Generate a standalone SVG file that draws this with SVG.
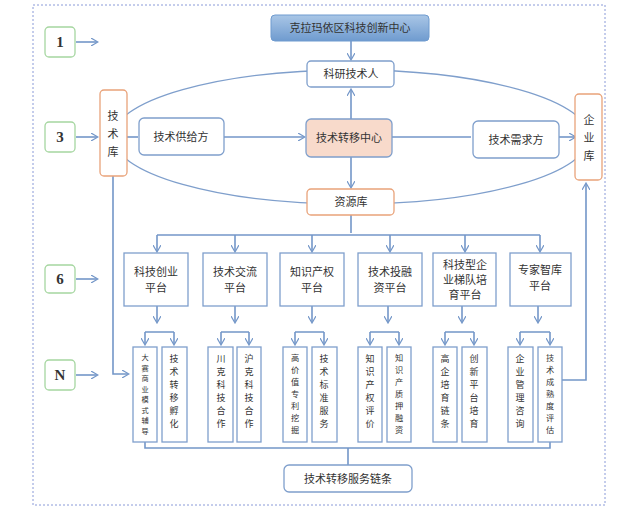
<svg xmlns="http://www.w3.org/2000/svg" width="643" height="506" viewBox="0 0 643 506">
<style>
text{font-family:"Noto Sans CJK SC","Liberation Sans",sans-serif;fill:#333;text-anchor:middle}
.b{fill:#fff;stroke:#7f9fcc;stroke-width:1.3}
.o{fill:#fff;stroke:#e9a37a;stroke-width:1.3}
.n{fill:#fff;stroke:#a5d6a0;stroke-width:1.3}
.c{fill:none;stroke:#7396c8;stroke-width:1.6}
.t{font-size:11px}
.s{font-size:9px}
.s7{font-size:8.2px}
.s8{font-size:7.2px}
.num{font-family:"Liberation Serif",serif;font-weight:bold;font-size:15px}
</style>
<defs>
<marker id="a" markerWidth="8" markerHeight="8" refX="6" refY="4" orient="auto" markerUnits="userSpaceOnUse"><path d="M0,0 L7,4 L0,8" fill="none" stroke="#7396c8" stroke-width="1.2"/></marker>
<linearGradient id="g" x1="0" y1="0" x2="0" y2="1"><stop offset="0" stop-color="#a9c6e6"/><stop offset="1" stop-color="#6f9bcf"/></linearGradient>
</defs>
<rect x="33" y="5" width="572" height="500" fill="none" stroke="#8a9ad8" stroke-dasharray="2,2"/>
<ellipse cx="351" cy="137" rx="238" ry="67" fill="none" stroke="#7f9fcc" stroke-width="1.3"/>
<g id="connectors">
<path class="c" d="M351 41V59" marker-end="url(#a)"/>
<path class="c" d="M351 119V90" marker-end="url(#a)"/>
<path class="c" d="M127 137H138"/>
<path class="c" d="M224 137H304" marker-end="url(#a)"/>
<path class="c" d="M392 137H471"/>
<path class="c" d="M559 137H575" marker-end="url(#a)"/>
<path class="c" d="M351 157V187" marker-end="url(#a)"/>
<path class="c" d="M351 215V233"/>
<path class="c" d="M157 235H540"/>
<path class="c" d="M157 235V251" marker-end="url(#a)"/>
<path class="c" d="M235 235V251" marker-end="url(#a)"/>
<path class="c" d="M312 235V251" marker-end="url(#a)"/>
<path class="c" d="M390 235V251" marker-end="url(#a)"/>
<path class="c" d="M465 235V251" marker-end="url(#a)"/>
<path class="c" d="M540 235V251" marker-end="url(#a)"/>
<path class="c" d="M157 306V322" marker-end="url(#a)"/>
<path class="c" d="M235 306V322" marker-end="url(#a)"/>
<path class="c" d="M312 306V322" marker-end="url(#a)"/>
<path class="c" d="M388 306V322" marker-end="url(#a)"/>
<path class="c" d="M462 306V322" marker-end="url(#a)"/>
<path class="c" d="M538 306V322" marker-end="url(#a)"/>
<path class="c" d="M145 332H174M221 332H249M295 332H324M370 332H399M445 332H474M520 332H550"/>
<path class="c" d="M145 332V344" marker-end="url(#a)"/><path class="c" d="M174 332V344" marker-end="url(#a)"/>
<path class="c" d="M221 332V344" marker-end="url(#a)"/><path class="c" d="M249 332V344" marker-end="url(#a)"/>
<path class="c" d="M295 332V344" marker-end="url(#a)"/><path class="c" d="M324 332V344" marker-end="url(#a)"/>
<path class="c" d="M370 332V344" marker-end="url(#a)"/><path class="c" d="M399 332V344" marker-end="url(#a)"/>
<path class="c" d="M445 332V344" marker-end="url(#a)"/><path class="c" d="M474 332V344" marker-end="url(#a)"/>
<path class="c" d="M520 332V344" marker-end="url(#a)"/><path class="c" d="M550 332V344" marker-end="url(#a)"/>
<path class="c" d="M113 176V374H128" marker-end="url(#a)"/>
<path class="c" d="M562 380H586V184" marker-end="url(#a)"/>
<path class="c" d="M145 442V448H550V442M348 448V465"/>
<path class="c" d="M76 42H97" marker-end="url(#a)"/>
<path class="c" d="M76 137H97" marker-end="url(#a)"/>
<path class="c" d="M76 279H97" marker-end="url(#a)"/>
<path class="c" d="M76 375H97" marker-end="url(#a)"/>
</g>
<g id="n1"><rect class="n" x="45" y="27" width="30" height="30" rx="4"/><text class="num" x="60" y="47">1</text></g>
<g id="n3"><rect class="n" x="45" y="122" width="30" height="30" rx="4"/><text class="num" x="60" y="142">3</text></g>
<g id="n6"><rect class="n" x="45" y="265" width="30" height="28" rx="4"/><text class="num" x="60" y="284">6</text></g>
<g id="nN"><rect class="n" x="45" y="360" width="30" height="30" rx="4"/><text class="num" x="60" y="380">N</text></g>
<g id="top"><rect x="271" y="15" width="158" height="26" rx="4" fill="url(#g)" stroke="#6f9bcf"/><text class="t" x="350" y="32">克拉玛依区科技创新中心</text></g>
<g id="kyjsr"><rect class="b" x="307" y="61" width="87" height="26" rx="4"/><text class="t" x="351" y="78">科研技术人</text></g>
<g id="jsk"><rect class="o" x="100" y="90" width="27" height="86" rx="4"/><text class="t" x="113" y="120">技</text><text class="t" x="113" y="138">术</text><text class="t" x="113" y="156">库</text></g>
<g id="qyk"><rect class="o" x="575" y="94" width="27" height="86" rx="4"/><text class="t" x="589" y="124">企</text><text class="t" x="589" y="142">业</text><text class="t" x="589" y="160">库</text></g>
<g id="gjf"><rect class="b" x="139" y="118" width="85" height="37" rx="5"/><text class="t" x="181" y="141">技术供给方</text></g>
<g id="center"><rect x="306" y="119" width="86" height="38" rx="5" fill="#f8dacb" stroke="#7f9fcc" stroke-width="1.3"/><text class="t" x="349" y="142">技术转移中心</text></g>
<g id="xqf"><rect class="b" x="473" y="121" width="86" height="37" rx="5"/><text class="t" x="516" y="144">技术需求方</text></g>
<g id="zyk"><rect class="o" x="307" y="189" width="87" height="26" rx="4"/><text class="t" x="351" y="206">资源库</text></g>
<g id="p1"><rect class="b" x="124" y="253" width="64" height="53"/><text class="t" x="156" y="276">科技创业</text><text class="t" x="156" y="292">平台</text></g>
<g id="p2"><rect class="b" x="203" y="253" width="64" height="53"/><text class="t" x="235" y="276">技术交流</text><text class="t" x="235" y="292">平台</text></g>
<g id="p3"><rect class="b" x="280" y="253" width="64" height="53"/><text class="t" x="312" y="276">知识产权</text><text class="t" x="312" y="292">平台</text></g>
<g id="p4"><rect class="b" x="358" y="253" width="64" height="53"/><text class="t" x="390" y="276">技术投融</text><text class="t" x="390" y="292">资平台</text></g>
<g id="p5"><rect class="b" x="433" y="253" width="63" height="53"/><text class="t" x="465" y="269">科技型企</text><text class="t" x="465" y="284">业梯队培</text><text class="t" x="465" y="299">育平台</text></g>
<g id="p6"><rect class="b" x="510" y="253" width="61" height="53"/><text class="t" x="540" y="274">专家智库</text><text class="t" x="540" y="290">平台</text></g>
<g id="subs">
<g id="s1"><rect class="b" x="133" y="347" width="24" height="95"/><text class="s8" x="145" y="360"><tspan x="145">大</tspan><tspan x="145" dy="10.5">赛</tspan><tspan x="145" dy="10.5">商</tspan><tspan x="145" dy="10.5">业</tspan><tspan x="145" dy="10.5">模</tspan><tspan x="145" dy="10.5">式</tspan><tspan x="145" dy="10.5">辅</tspan><tspan x="145" dy="10.5">导</tspan></text></g>
<g id="s2"><rect class="b" x="162" y="347" width="25" height="95"/><text class="s" x="174" y="362"><tspan x="174">技</tspan><tspan x="174" dy="13">术</tspan><tspan x="174" dy="13">转</tspan><tspan x="174" dy="13">移</tspan><tspan x="174" dy="13">孵</tspan><tspan x="174" dy="13">化</tspan></text></g>
<g id="s3"><rect class="b" x="208" y="347" width="25" height="95"/><text class="s" x="221" y="362"><tspan x="221">川</tspan><tspan x="221" dy="13">克</tspan><tspan x="221" dy="13">科</tspan><tspan x="221" dy="13">技</tspan><tspan x="221" dy="13">合</tspan><tspan x="221" dy="13">作</tspan></text></g>
<g id="s4"><rect class="b" x="237" y="347" width="24" height="95"/><text class="s" x="249" y="362"><tspan x="249">沪</tspan><tspan x="249" dy="13">克</tspan><tspan x="249" dy="13">科</tspan><tspan x="249" dy="13">技</tspan><tspan x="249" dy="13">合</tspan><tspan x="249" dy="13">作</tspan></text></g>
<g id="s5"><rect class="b" x="283" y="347" width="24" height="95"/><text class="s7" x="295" y="361"><tspan x="295">高</tspan><tspan x="295" dy="12">价</tspan><tspan x="295" dy="12">值</tspan><tspan x="295" dy="12">专</tspan><tspan x="295" dy="12">利</tspan><tspan x="295" dy="12">挖</tspan><tspan x="295" dy="12">掘</tspan></text></g>
<g id="s6"><rect class="b" x="312" y="347" width="25" height="95"/><text class="s" x="324" y="362"><tspan x="324">技</tspan><tspan x="324" dy="13">术</tspan><tspan x="324" dy="13">标</tspan><tspan x="324" dy="13">准</tspan><tspan x="324" dy="13">服</tspan><tspan x="324" dy="13">务</tspan></text></g>
<g id="s7"><rect class="b" x="358" y="347" width="24" height="95"/><text class="s" x="370" y="362"><tspan x="370">知</tspan><tspan x="370" dy="13">识</tspan><tspan x="370" dy="13">产</tspan><tspan x="370" dy="13">权</tspan><tspan x="370" dy="13">评</tspan><tspan x="370" dy="13">价</tspan></text></g>
<g id="s8"><rect class="b" x="387" y="347" width="24" height="95"/><text class="s7" x="399" y="361"><tspan x="399">知</tspan><tspan x="399" dy="12">识</tspan><tspan x="399" dy="12">产</tspan><tspan x="399" dy="12">质</tspan><tspan x="399" dy="12">押</tspan><tspan x="399" dy="12">融</tspan><tspan x="399" dy="12">资</tspan></text></g>
<g id="s9"><rect class="b" x="433" y="347" width="24" height="95"/><text class="s" x="445" y="362"><tspan x="445">高</tspan><tspan x="445" dy="13">企</tspan><tspan x="445" dy="13">培</tspan><tspan x="445" dy="13">育</tspan><tspan x="445" dy="13">链</tspan><tspan x="445" dy="13">条</tspan></text></g>
<g id="s10"><rect class="b" x="462" y="347" width="25" height="95"/><text class="s" x="474" y="362"><tspan x="474">创</tspan><tspan x="474" dy="13">新</tspan><tspan x="474" dy="13">平</tspan><tspan x="474" dy="13">台</tspan><tspan x="474" dy="13">培</tspan><tspan x="474" dy="13">育</tspan></text></g>
<g id="s11"><rect class="b" x="508" y="347" width="25" height="95"/><text class="s" x="520" y="362"><tspan x="520">企</tspan><tspan x="520" dy="13">业</tspan><tspan x="520" dy="13">管</tspan><tspan x="520" dy="13">理</tspan><tspan x="520" dy="13">咨</tspan><tspan x="520" dy="13">询</tspan></text></g>
<g id="s12"><rect class="b" x="538" y="347" width="24" height="95"/><text class="s7" x="550" y="361"><tspan x="550">技</tspan><tspan x="550" dy="12">术</tspan><tspan x="550" dy="12">成</tspan><tspan x="550" dy="12">熟</tspan><tspan x="550" dy="12">度</tspan><tspan x="550" dy="12">评</tspan><tspan x="550" dy="12">估</tspan></text></g>
</g>
<g id="chain"><rect class="b" x="284" y="465" width="128" height="27" rx="5"/><text class="t" x="348" y="483">技术转移服务链条</text></g>
</svg>
